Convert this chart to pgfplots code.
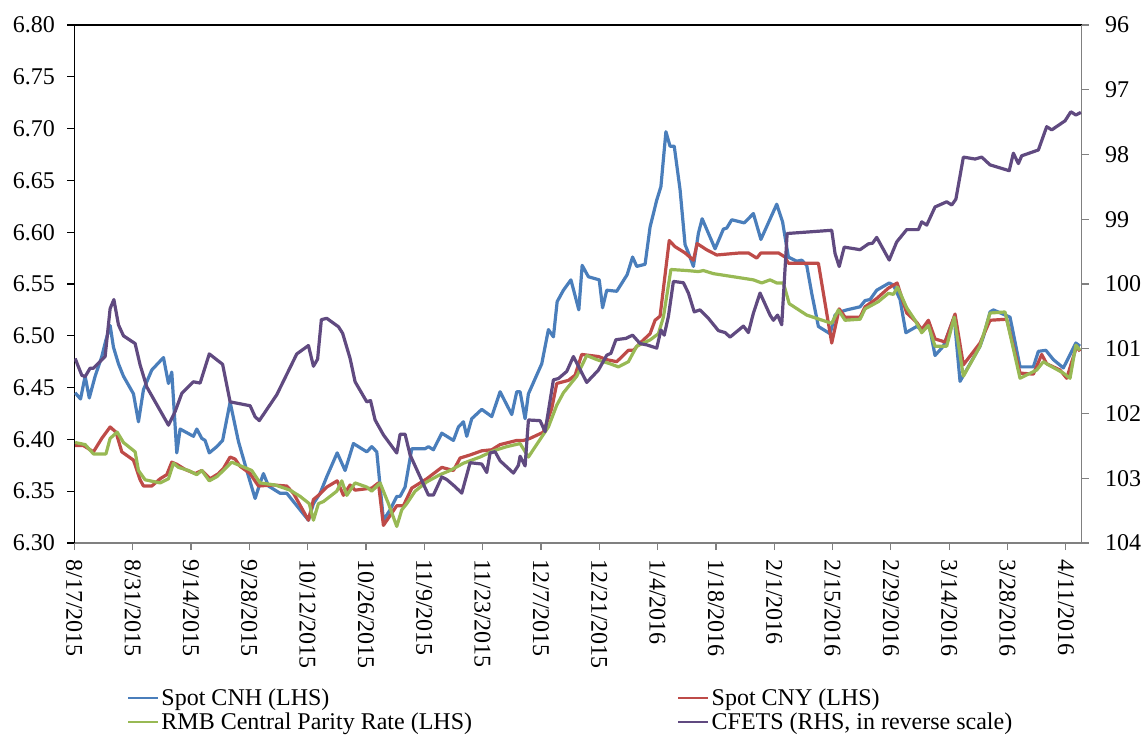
\documentclass[border=0pt]{standalone}
\usepackage{fontspec}
\setmainfont{Liberation Serif}
\usepackage{pgfplots}
\pgfplotsset{compat=1.18}
\definecolor{cnh}{RGB}{74,126,187}
\definecolor{cny}{RGB}{190,75,72}
\definecolor{rmb}{RGB}{152,185,84}
\definecolor{cfets}{RGB}{96,74,128}
\definecolor{axgray}{RGB}{128,128,128}
\begin{document}
\begin{tikzpicture}
\useasboundingbox (-74.3bp,-193bp) rectangle (1068.7bp,543bp);
\pgfplotsset{
  base/.style={scale only axis, width=1007.4bp, height=518bp, xmin=0, xmax=241.8,
    every non boxed x axis/.style={}, every non boxed y axis/.style={},
    tick align=outside, major tick length=7bp,
    /pgf/number format/assume math mode=true,
    tick label style={font=\fontsize{24bp}{28bp}\selectfont},
    every axis plot/.append style={line width=3.2bp, line join=round, mark=none},
  }
}
\begin{axis}[base,
  axis y line*=left, axis x line*=bottom,
  y axis line style={-,black,line width=1.2bp}, x axis line style={-,axgray,line width=1.2bp},
  x tick style={axgray,line width=1.2bp}, y tick style={black,line width=1.2bp},
  ymin=6.30, ymax=6.80,
  ytick={6.30,6.35,6.40,6.45,6.50,6.55,6.60,6.65,6.70,6.75,6.80},
  yticklabel style={/pgf/number format/.cd, fixed, fixed zerofill, precision=2},
  yticklabel shift=9bp,
  xtick={0,14,28,42,56,70,84,98,112,126,140,154,168,182,196,210,224,238},
  xticklabels={8/17/2015,8/31/2015,9/14/2015,9/28/2015,10/12/2015,10/26/2015,11/9/2015,11/23/2015,12/7/2015,12/21/2015,1/4/2016,1/18/2016,2/1/2016,2/15/2016,2/29/2016,3/14/2016,3/28/2016,4/11/2016},
  xticklabel style={rotate=-90, anchor=west},
  xticklabel shift=6bp,
  legend columns=2,
  legend cell align=left,
  legend style={at={(axis description cs:0.052,-0.279)}, anchor=north west, draw=none, fill=none,
    inner sep=0pt, font=\fontsize{24bp}{28bp}\selectfont, row sep=4bp,
    nodes={inner ysep=1bp},
    /tikz/every even column/.append style={column sep=203bp}},
  legend image code/.code={\draw[#1, line width=2.6bp] (0bp,0bp) -- (30bp,0bp);},
]
\addplot[cnh] coordinates {(0.2,6.445)(1.5,6.439)(2.6,6.461)(3.6,6.440)(5.0,6.461)(6.6,6.480)(7.6,6.496)(8.6,6.510)(9.4,6.489)(10.6,6.473)(11.8,6.461)(14.2,6.444)(15.4,6.417)(16.6,6.448)(18.6,6.467)(21.4,6.479)(22.6,6.454)(23.4,6.465)(24.6,6.387)(25.4,6.410)(28.6,6.403)(29.4,6.410)(30.6,6.401)(31.4,6.399)(32.4,6.387)(34.2,6.393)(35.6,6.399)(37.4,6.436)(39.4,6.398)(41.4,6.370)(43.4,6.343)(44.6,6.358)(45.4,6.367)(46.6,6.355)(49.4,6.348)(51.0,6.348)(54.2,6.332)(56.2,6.322)(57.4,6.338)(59.0,6.348)(60.6,6.364)(63.1,6.387)(65.0,6.370)(67.0,6.396)(70.2,6.388)(71.4,6.393)(72.6,6.388)(74.2,6.322)(75.8,6.332)(77.4,6.345)(78.2,6.345)(79.4,6.354)(81.0,6.391)(84.2,6.391)(85.0,6.393)(86.2,6.390)(88.2,6.406)(91.0,6.399)(92.2,6.412)(93.4,6.417)(94.2,6.403)(95.4,6.420)(97.8,6.429)(100.2,6.422)(102.2,6.446)(105.0,6.424)(106.2,6.446)(107.0,6.446)(108.2,6.420)(109.0,6.444)(112.2,6.473)(113.8,6.506)(115.0,6.499)(115.9,6.533)(117.4,6.544)(119.2,6.554)(121.1,6.525)(121.9,6.568)(123.4,6.557)(126.0,6.554)(126.8,6.527)(127.8,6.544)(130.2,6.543)(132.7,6.559)(134.0,6.576)(135.0,6.567)(137.0,6.569)(138.2,6.605)(139.8,6.631)(140.8,6.644)(142.0,6.697)(143.0,6.683)(144.0,6.683)(145.4,6.641)(146.6,6.588)(147.4,6.580)(148.6,6.567)(149.8,6.599)(150.7,6.613)(153.8,6.584)(155.8,6.603)(156.6,6.604)(157.8,6.612)(160.8,6.609)(163.0,6.618)(164.8,6.593)(168.6,6.627)(170.0,6.610)(171.4,6.576)(173.4,6.572)(174.6,6.573)(175.8,6.568)(177.0,6.541)(178.6,6.509)(181.4,6.502)(182.6,6.520)(183.8,6.523)(185.4,6.525)(188.6,6.528)(189.8,6.534)(191.0,6.535)(192.6,6.544)(195.6,6.551)(196.6,6.549)(198.2,6.535)(199.6,6.503)(202.2,6.509)(203.4,6.506)(205.0,6.514)(206.6,6.481)(208.6,6.490)(211.2,6.518)(212.6,6.456)(217.4,6.490)(218.2,6.499)(219.8,6.523)(220.6,6.525)(224.6,6.518)(227.0,6.470)(230.2,6.470)(231.4,6.485)(233.2,6.486)(235.0,6.477)(237.4,6.469)(240.4,6.493)(241.4,6.490)};
\addlegendentry{Spot CNH (LHS)}
\addplot[cny] coordinates {(0.2,6.394)(2.2,6.394)(4.6,6.388)(6.6,6.401)(8.6,6.412)(10.0,6.407)(11.4,6.388)(14.2,6.380)(15.8,6.361)(16.6,6.355)(18.6,6.355)(20.6,6.362)(22.2,6.366)(23.4,6.378)(24.6,6.376)(26.6,6.371)(29.0,6.367)(30.6,6.370)(32.6,6.362)(34.6,6.367)(35.8,6.372)(37.4,6.383)(38.6,6.381)(39.8,6.374)(42.2,6.367)(44.2,6.355)(47.8,6.356)(51.0,6.355)(52.6,6.348)(56.2,6.322)(57.4,6.342)(58.6,6.346)(60.6,6.354)(63.1,6.360)(64.6,6.346)(66.2,6.356)(67.4,6.351)(71.4,6.353)(73.0,6.358)(74.2,6.317)(77.4,6.336)(79.0,6.336)(81.0,6.353)(84.6,6.362)(88.2,6.373)(91.0,6.370)(92.6,6.382)(95.0,6.385)(97.8,6.389)(100.2,6.390)(102.2,6.395)(106.2,6.399)(107.8,6.399)(109.4,6.401)(112.6,6.407)(114.6,6.430)(115.8,6.454)(118.6,6.457)(120.2,6.462)(121.8,6.482)(125.8,6.480)(127.8,6.477)(130.2,6.475)(133.0,6.486)(134.2,6.486)(135.8,6.493)(138.2,6.502)(139.4,6.515)(140.6,6.519)(142.8,6.592)(144.2,6.586)(146.6,6.580)(148.6,6.573)(149.5,6.589)(151.8,6.583)(154.2,6.578)(159.8,6.580)(161.8,6.580)(163.8,6.575)(164.8,6.580)(169.0,6.580)(170.6,6.576)(171.4,6.570)(178.6,6.570)(181.8,6.493)(183.6,6.526)(185.0,6.518)(188.6,6.518)(189.8,6.528)(192.6,6.536)(195.4,6.546)(197.5,6.551)(199.8,6.522)(202.2,6.513)(203.4,6.506)(205.0,6.515)(206.6,6.497)(209.0,6.494)(211.4,6.521)(213.4,6.472)(217.4,6.493)(219.8,6.515)(223.8,6.516)(227.0,6.464)(230.2,6.463)(232.2,6.482)(233.4,6.473)(236.6,6.467)(238.2,6.459)(240.6,6.490)(241.4,6.485)};
\addlegendentry{Spot CNY (LHS)}
\addplot[rmb] coordinates {(0.2,6.397)(2.6,6.395)(4.6,6.386)(7.6,6.386)(8.6,6.401)(10.3,6.407)(11.8,6.397)(14.6,6.388)(15.4,6.370)(17.0,6.361)(20.6,6.358)(22.6,6.362)(23.8,6.377)(25.0,6.373)(27.4,6.370)(29.4,6.366)(30.6,6.370)(32.4,6.360)(34.2,6.364)(35.8,6.370)(37.8,6.378)(40.2,6.374)(42.6,6.370)(44.6,6.358)(48.2,6.356)(51.8,6.351)(54.2,6.345)(56.4,6.338)(57.4,6.322)(58.6,6.338)(59.8,6.340)(63.0,6.350)(64.2,6.360)(65.4,6.346)(67.4,6.358)(70.2,6.354)(71.4,6.350)(73.4,6.358)(75.4,6.338)(77.4,6.316)(78.6,6.332)(79.8,6.338)(81.8,6.350)(84.6,6.359)(87.8,6.366)(90.2,6.370)(93.4,6.377)(97.4,6.383)(100.6,6.389)(103.8,6.393)(107.0,6.396)(109.0,6.383)(111.8,6.400)(113.8,6.412)(115.8,6.433)(117.4,6.445)(120.6,6.461)(123.0,6.481)(125.4,6.477)(128.6,6.473)(130.6,6.470)(133.0,6.475)(135.0,6.490)(138.2,6.496)(140.2,6.502)(141.4,6.518)(143.2,6.564)(147.0,6.563)(149.8,6.562)(151.0,6.563)(153.4,6.560)(156.6,6.558)(159.8,6.556)(163.0,6.554)(165.0,6.551)(167.0,6.554)(168.6,6.551)(170.2,6.551)(171.6,6.531)(175.8,6.520)(181.8,6.512)(183.4,6.525)(185.0,6.515)(188.6,6.516)(189.8,6.526)(193.0,6.533)(195.4,6.541)(196.6,6.540)(197.6,6.547)(199.8,6.527)(201.8,6.515)(203.4,6.503)(205.0,6.510)(206.6,6.490)(209.4,6.490)(211.2,6.518)(213.4,6.461)(217.4,6.490)(219.8,6.522)(223.4,6.523)(227.0,6.459)(231.0,6.467)(232.6,6.475)(233.8,6.472)(237.4,6.464)(239.0,6.459)(240.4,6.491)(241.4,6.486)};
\addlegendentry{RMB Central Parity Rate (LHS)}
\addlegendimage{cfets}
\addlegendentry{CFETS (RHS, in reverse scale)}
\end{axis}
\begin{axis}[base,
  axis y line*=right, axis x line*=top, xtick=\empty,
  y axis line style={-,axgray,line width=1.2bp}, x axis line style={-,black,line width=1.2bp},
  y tick style={axgray,line width=1.2bp},
  yticklabel shift=13bp,
  ymin=96, ymax=104, y dir=reverse, ytick={96,97,98,99,100,101,102,103,104},
]
\addplot[cfets] coordinates {(0.2,101.15)(1.8,101.41)(2.6,101.43)(3.8,101.30)(4.6,101.30)(7.4,101.12)(8.6,100.38)(9.5,100.24)(10.6,100.63)(11.8,100.80)(14.6,100.92)(15.8,101.25)(17.4,101.59)(22.6,102.18)(24.2,101.97)(25.8,101.69)(28.6,101.51)(30.2,101.53)(32.4,101.08)(35.6,101.24)(37.4,101.82)(42.2,101.88)(43.4,102.05)(44.4,102.11)(48.6,101.71)(53.4,101.08)(56.2,100.95)(57.4,101.27)(58.4,101.16)(59.3,100.55)(60.6,100.53)(63.4,100.66)(64.4,100.76)(66.2,101.15)(67.4,101.51)(70.2,101.82)(71.1,101.80)(72.2,102.10)(74.2,102.33)(77.4,102.61)(78.2,102.32)(79.4,102.32)(80.6,102.64)(85.0,103.26)(86.2,103.26)(88.2,102.98)(89.4,103.02)(91.4,103.13)(93.0,103.23)(95.0,102.76)(97.8,102.78)(99.0,102.91)(99.8,102.61)(101.0,102.59)(102.2,102.73)(105.4,102.92)(106.6,102.80)(107.0,102.66)(108.2,102.81)(109.0,102.10)(111.8,102.11)(113.0,102.28)(115.0,101.48)(116.2,101.46)(118.2,101.35)(119.8,101.12)(123.0,101.52)(125.8,101.33)(127.8,101.10)(128.8,101.07)(130.0,100.86)(132.4,100.84)(134.0,100.79)(135.8,100.92)(137.4,100.94)(139.8,100.99)(140.8,100.71)(141.6,100.79)(142.6,100.50)(143.8,99.96)(146.2,99.98)(147.4,100.14)(148.8,100.43)(150.2,100.40)(152.2,100.53)(154.6,100.72)(156.2,100.75)(157.4,100.82)(160.6,100.65)(161.8,100.75)(163.0,100.45)(164.6,100.14)(167.0,100.48)(167.8,100.56)(168.8,100.48)(169.8,100.63)(171.1,99.22)(181.8,99.17)(182.6,99.53)(183.6,99.73)(184.8,99.43)(188.6,99.47)(190.6,99.38)(191.6,99.37)(192.6,99.28)(195.6,99.63)(197.4,99.35)(199.8,99.16)(202.6,99.16)(203.4,99.04)(204.6,99.09)(206.6,98.81)(209.4,98.73)(210.6,98.78)(211.6,98.69)(213.4,98.04)(216.2,98.07)(217.8,98.04)(219.8,98.16)(224.4,98.25)(225.4,97.98)(226.6,98.14)(227.4,98.02)(231.4,97.93)(233.4,97.57)(234.6,97.62)(237.8,97.48)(239.2,97.34)(240.4,97.39)(241.6,97.35)};
\end{axis}
\end{tikzpicture}
\end{document}
